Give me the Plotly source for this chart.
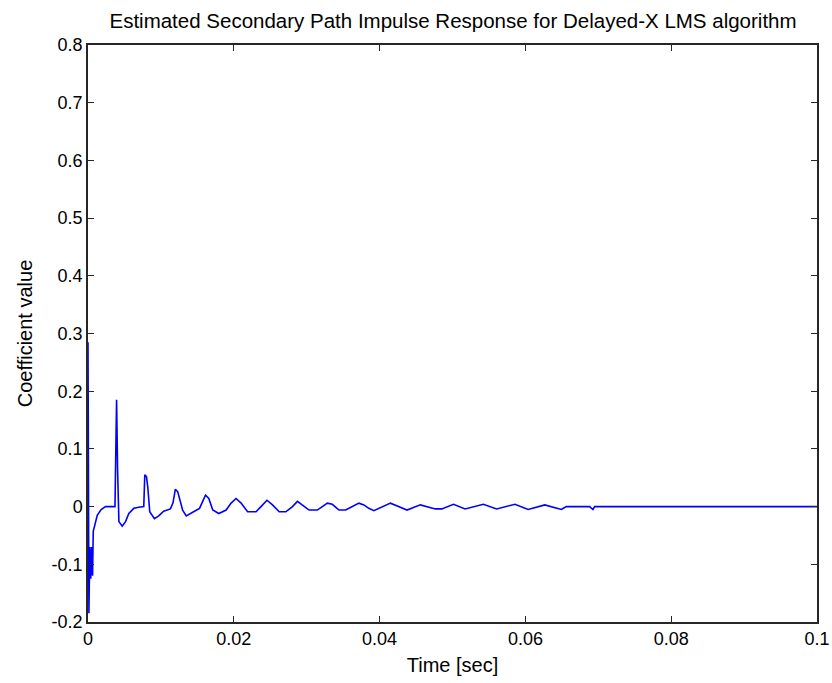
import plotly.graph_objects as go

# Estimated secondary-path impulse response (vertices of the coefficient trace)
time_s = [
    0.0, 0.000125, 0.00025, 0.000375, 0.0005, 0.000625, 0.00072, 0.00104, 0.00127,
    0.0018, 0.0024, 0.0037,
    0.00376, 0.00392, 0.00406, 0.00424, 0.00469, 0.00515, 0.0056, 0.00628, 0.00697, 0.00765,
    0.00779, 0.00802, 0.0082, 0.00847, 0.00911, 0.0097, 0.01038, 0.0113,
    0.01165, 0.01198, 0.0123, 0.01266, 0.01298, 0.01348, 0.01425, 0.0153,
    0.01612, 0.01657, 0.01712, 0.01794, 0.01895, 0.01963,
    0.02031, 0.021, 0.0219, 0.02305, 0.02373,
    0.02455, 0.02531, 0.02623, 0.02714, 0.02805,
    0.02873, 0.02941, 0.03033, 0.03146, 0.03215,
    0.03283, 0.03351, 0.03443, 0.03534, 0.03624,
    0.03716, 0.03784, 0.03852, 0.03921,
    0.04149, 0.04376, 0.04559, 0.04764, 0.04854,
    0.05014, 0.05173, 0.05423, 0.05605,
    0.05857, 0.06038, 0.06266, 0.06493, 0.06561, 0.06881, 0.06926, 0.0695,
    0.1,
]
coeff = [
    0.285, -0.185, -0.07, -0.125, -0.07, -0.12, -0.043, -0.026, -0.015,
    -0.005, 0.0, 0.0,
    0.092, 0.185, 0.063, -0.026, -0.034, -0.026, -0.012, -0.003, -0.001, 0.0,
    0.055, 0.052, 0.034, -0.009, -0.021, -0.016, -0.008, -0.004,
    0.006, 0.030, 0.026, 0.009, -0.006, -0.016, -0.010, -0.003,
    0.020, 0.014, -0.006, -0.012, -0.006, 0.006,
    0.014, 0.006, -0.009, -0.009, 0.0,
    0.011, 0.003, -0.009, -0.009, 0.0,
    0.009, 0.003, -0.006, -0.006, 0.0,
    0.006, 0.004, -0.006, -0.006, 0.0,
    0.006, 0.003, -0.003, -0.007,
    0.006, -0.006, 0.003, -0.004, -0.004,
    0.004, -0.004, 0.004, -0.004,
    0.004, -0.005, 0.003, -0.005, 0.0, 0.0, -0.005, 0.0,
    0.0,
]

x_ticks = [0, 0.02, 0.04, 0.06, 0.08, 0.1]
x_labels = ["0", "0.02", "0.04", "0.06", "0.08", "0.1"]
y_ticks = [-0.2, -0.1, 0, 0.1, 0.2, 0.3, 0.4, 0.5, 0.6, 0.7, 0.8]
y_labels = ["-0.2", "-0.1", "0", "0.1", "0.2", "0.3", "0.4", "0.5", "0.6", "0.7", "0.8"]

font_family = "Liberation Sans, Arial, sans-serif"
label_font = dict(family=font_family, size=20, color="black")

fig = go.Figure(
    go.Scatter(
        x=time_s,
        y=coeff,
        mode="lines",
        line=dict(color="#0000ff", width=1.6),
        showlegend=False,
    )
)

axis_common = dict(
    showline=True,
    linecolor="#262626",
    linewidth=1.5,
    mirror="allticks",
    ticks="inside",
    ticklen=6,
    tickcolor="#262626",
    tickwidth=1.2,
    showgrid=False,
    zeroline=False,
    automargin=False,
    ticklabeloverflow="allow",
    tickfont=dict(family=font_family, size=18, color="black"),
)

fig.update_layout(
    width=832,
    height=683,
    margin=dict(l=88, r=15, t=45, b=61),
    paper_bgcolor="white",
    plot_bgcolor="white",
    font=dict(family=font_family, size=18, color="black"),
    title=dict(
        text="Estimated Secondary Path Impulse Response for Delayed-X LMS algorithm",
        x=0.5445,
        xanchor="center",
        y=0.97,
        yanchor="middle",
        font=dict(family=font_family, size=20.5, color="black"),
    ),
    xaxis=dict(
        range=[0, 0.1],
        tickvals=x_ticks,
        ticktext=x_labels,
        title=dict(text="Time [sec]", standoff=10, font=label_font),
        **axis_common,
    ),
    yaxis=dict(
        range=[-0.2, 0.8],
        tickvals=y_ticks,
        ticktext=y_labels,
        title=dict(text="Coefficient value", standoff=14, font=label_font),
        **axis_common,
    ),
)

fig.write_html("out.html")
